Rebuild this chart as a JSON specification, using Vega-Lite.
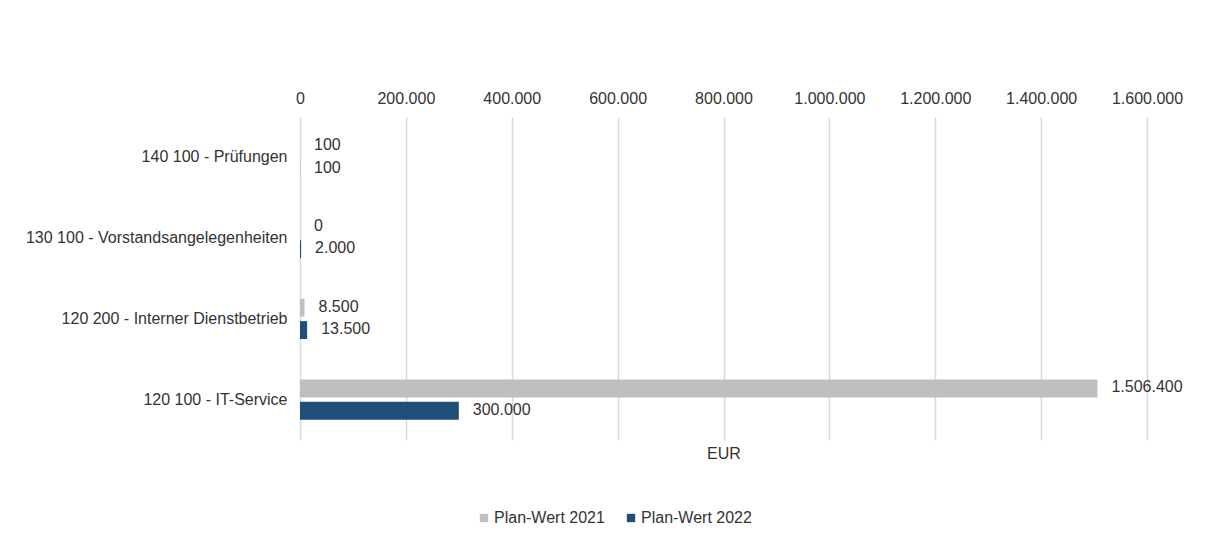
{
  "$schema": "https://vega.github.io/schema/vega-lite/v6.json",
  "autosize": {"type": "none"},
  "width": 847,
  "height": 323,
  "padding": {"left": 300, "top": 117, "right": 59, "bottom": 97},
  "background": "white",
  "config": {
    "locale": {"number": {"decimal": ",", "thousands": ".", "grouping": [3], "currency": ["", " €"]}},
    "view": {"stroke": null},
    "font": "Liberation Sans",
    "axis": {"labelFont": "Liberation Sans", "titleFont": "Liberation Sans"},
    "legend": {"labelFont": "Liberation Sans"}
  },
  "data": {
    "values": [
      {"kat": "140 100 - Prüfungen", "serie": "Plan-Wert 2021", "wert": 100},
      {"kat": "140 100 - Prüfungen", "serie": "Plan-Wert 2022", "wert": 100},
      {"kat": "130 100 - Vorstandsangelegenheiten", "serie": "Plan-Wert 2021", "wert": 0},
      {"kat": "130 100 - Vorstandsangelegenheiten", "serie": "Plan-Wert 2022", "wert": 2000},
      {"kat": "120 200 - Interner Dienstbetrieb", "serie": "Plan-Wert 2021", "wert": 8500},
      {"kat": "120 200 - Interner Dienstbetrieb", "serie": "Plan-Wert 2022", "wert": 13500},
      {"kat": "120 100 - IT-Service", "serie": "Plan-Wert 2021", "wert": 1506400},
      {"kat": "120 100 - IT-Service", "serie": "Plan-Wert 2022", "wert": 300000}
    ]
  },
  "encoding": {
    "y": {
      "field": "kat",
      "type": "nominal",
      "sort": ["140 100 - Prüfungen", "130 100 - Vorstandsangelegenheiten", "120 200 - Interner Dienstbetrieb", "120 100 - IT-Service"],
      "scale": {"paddingInner": 0.5, "paddingOuter": 0.25},
      "axis": {"title": null, "domain": false, "ticks": false, "labelFontSize": 16, "labelColor": "#333333", "labelPadding": 13, "labelLimit": 300}
    },
    "yOffset": {
      "field": "serie",
      "type": "nominal",
      "sort": ["Plan-Wert 2021", "Plan-Wert 2022"],
      "scale": {"paddingInner": 0.2}
    }
  },
  "layer": [
    {
      "mark": {"type": "bar"},
      "encoding": {
        "x": {
          "field": "wert",
          "type": "quantitative",
          "scale": {"domain": [0, 1600000], "nice": false},
          "axis": {
            "orient": "top",
            "title": null,
            "values": [0, 200000, 400000, 600000, 800000, 1000000, 1200000, 1400000, 1600000],
            "format": ",d",
            "grid": true,
            "gridColor": "#d9d9d9",
            "gridWidth": 1.5,
            "domain": false,
            "ticks": false,
            "labelOverlap": false,
            "labelBound": false,
            "labelFlush": false,
            "labelFontSize": 16,
            "labelColor": "#333333",
            "labelPadding": 11
          }
        },
        "color": {
          "field": "serie",
          "type": "nominal",
          "scale": {"domain": ["Plan-Wert 2021", "Plan-Wert 2022"], "range": ["#bfbfbf", "#1f4e79"]},
          "legend": {
            "title": null,
            "orient": "none",
            "legendX": 176,
            "legendY": 393,
            "direction": "horizontal",
            "symbolType": "square",
            "symbolSize": 70,
            "symbolStrokeWidth": 0,
            "labelFontSize": 16,
            "labelColor": "#333333",
            "labelOffset": 2,
            "columnPadding": 18
          }
        }
      }
    },
    {
      "mark": {"type": "text", "align": "left", "baseline": "middle", "dx": 14, "dy": -1, "fontSize": 16, "color": "#333333"},
      "encoding": {
        "x": {
          "field": "wert",
          "type": "quantitative",
          "axis": {
            "orient": "bottom",
            "title": "EUR",
            "labels": false,
            "ticks": false,
            "domain": false,
            "grid": false,
            "titlePadding": 5,
            "titleFontSize": 16,
            "titleFontWeight": "normal",
            "titleColor": "#333333"
          }
        },
        "text": {"field": "wert", "type": "quantitative", "format": ",d"}
      }
    }
  ]
}
